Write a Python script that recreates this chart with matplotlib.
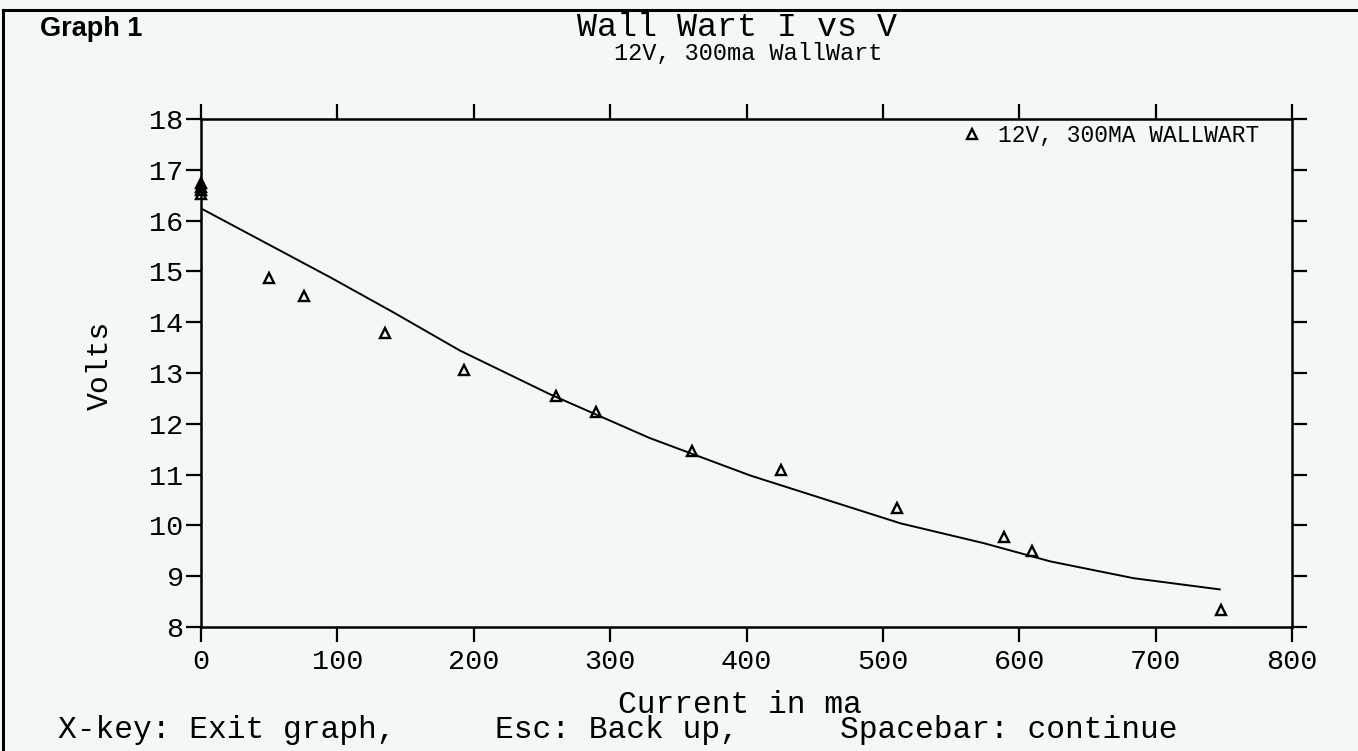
import matplotlib
matplotlib.use('Agg')
import matplotlib.pyplot as plt
from matplotlib.lines import Line2D

# measured points (current in ma, volts)
current_ma = [0, 0, 0, 0, 50, 75.5, 134.7, 193, 260, 290, 360, 425, 510, 589, 609, 748]
volts = [16.74, 16.66, 16.60, 16.53, 14.87, 14.52, 13.78, 13.05, 12.55, 12.24,
         11.46, 11.10, 10.35, 9.78, 9.50, 8.33]

# fitted curve as drawn on the original
fit_ma = [0, 58, 95, 140, 190, 256, 329, 403, 513, 574, 623, 684, 747]
fit_volts = [16.24, 15.41, 14.88, 14.21, 13.44, 12.58, 11.72, 10.98, 10.04,
             9.65, 9.29, 8.96, 8.74]

x_ticks = [0, 100, 200, 300, 400, 500, 600, 700, 800]
y_ticks = [8, 9, 10, 11, 12, 13, 14, 15, 16, 17, 18]

W, H = 1358, 751
bg = '#f3f8f5'
mono = ['Liberation Mono', 'DejaVu Sans Mono']


def fx(x):
    return x / W


def fy(y):
    return 1 - y / H


fig = plt.figure(figsize=(W / 100, H / 100), dpi=100, facecolor=bg)

left, right, top, bottom = 201, 1292, 119, 627
ax = fig.add_axes([fx(left), fy(bottom), (right - left) / W, (bottom - top) / H])
ax.set_facecolor(bg)

ax.plot(fit_ma, fit_volts, color='black', lw=1.4)
ax.plot(current_ma, volts, linestyle='none', marker='^', ms=7.5, mfc='none',
        mec='black', mew=1.7, clip_on=False)

ax.set_xlim(0, 800)
ax.set_ylim(8, 18)
ax.set_xticks(x_ticks)
ax.set_yticks(y_ticks)

for s in ax.spines.values():
    s.set_linewidth(1.8)
ax.tick_params(direction='out', length=10.5, width=1.6, top=True, right=True,
               labeltop=False, labelright=False)
ax.tick_params(axis='x', pad=5)
ax.tick_params(axis='y', pad=2)
for lab in ax.get_xticklabels() + ax.get_yticklabels():
    lab.set_family(mono)
    lab.set_fontsize(20.5)

# legend entry
fig.add_artist(Line2D([fx(972)], [fy(134)], marker='^', ms=7.5, mfc='none',
                      mec='black', mew=1.7, linestyle='none'))
fig.text(fx(998), fy(136), '12V, 300MA WALLWART', family=mono, fontsize=16.5,
         va='center', ha='left')

# titles
fig.text(fx(737), fy(27), 'Wall Wart I vs V', family=mono, fontsize=24,
         ha='center', va='center')
fig.text(fx(748), fy(53), '12V, 300ma WallWart', family=mono, fontsize=17,
         ha='center', va='center')
fig.text(fx(40), fy(29), 'Graph 1', family=['Liberation Sans', 'DejaVu Sans'],
         fontweight='bold', fontsize=19.5, ha='left', va='center')

# axis labels
fig.text(fx(740), fy(705), 'Current in ma', family=mono, fontsize=22.5,
         ha='center', va='center')
fig.text(fx(100), fy(365), 'Volts', family=mono, fontsize=21.5, rotation=90,
         ha='center', va='center')

# key help line
fig.text(fx(58), fy(730), 'X-key: Exit graph,', family=mono, fontsize=22.5,
         ha='left', va='center')
fig.text(fx(495), fy(730), 'Esc: Back up,', family=mono, fontsize=22.5,
         ha='left', va='center')
fig.text(fx(840), fy(730), 'Spacebar: continue', family=mono, fontsize=22.5,
         ha='left', va='center')

# page frame
fig.add_artist(Line2D([fx(3), 1], [fy(10), fy(10)], color='black', lw=2.2))
fig.add_artist(Line2D([fx(3), fx(3)], [fy(10), 0], color='black', lw=2.2))

fig.savefig('out.png', dpi=100, facecolor=bg)
